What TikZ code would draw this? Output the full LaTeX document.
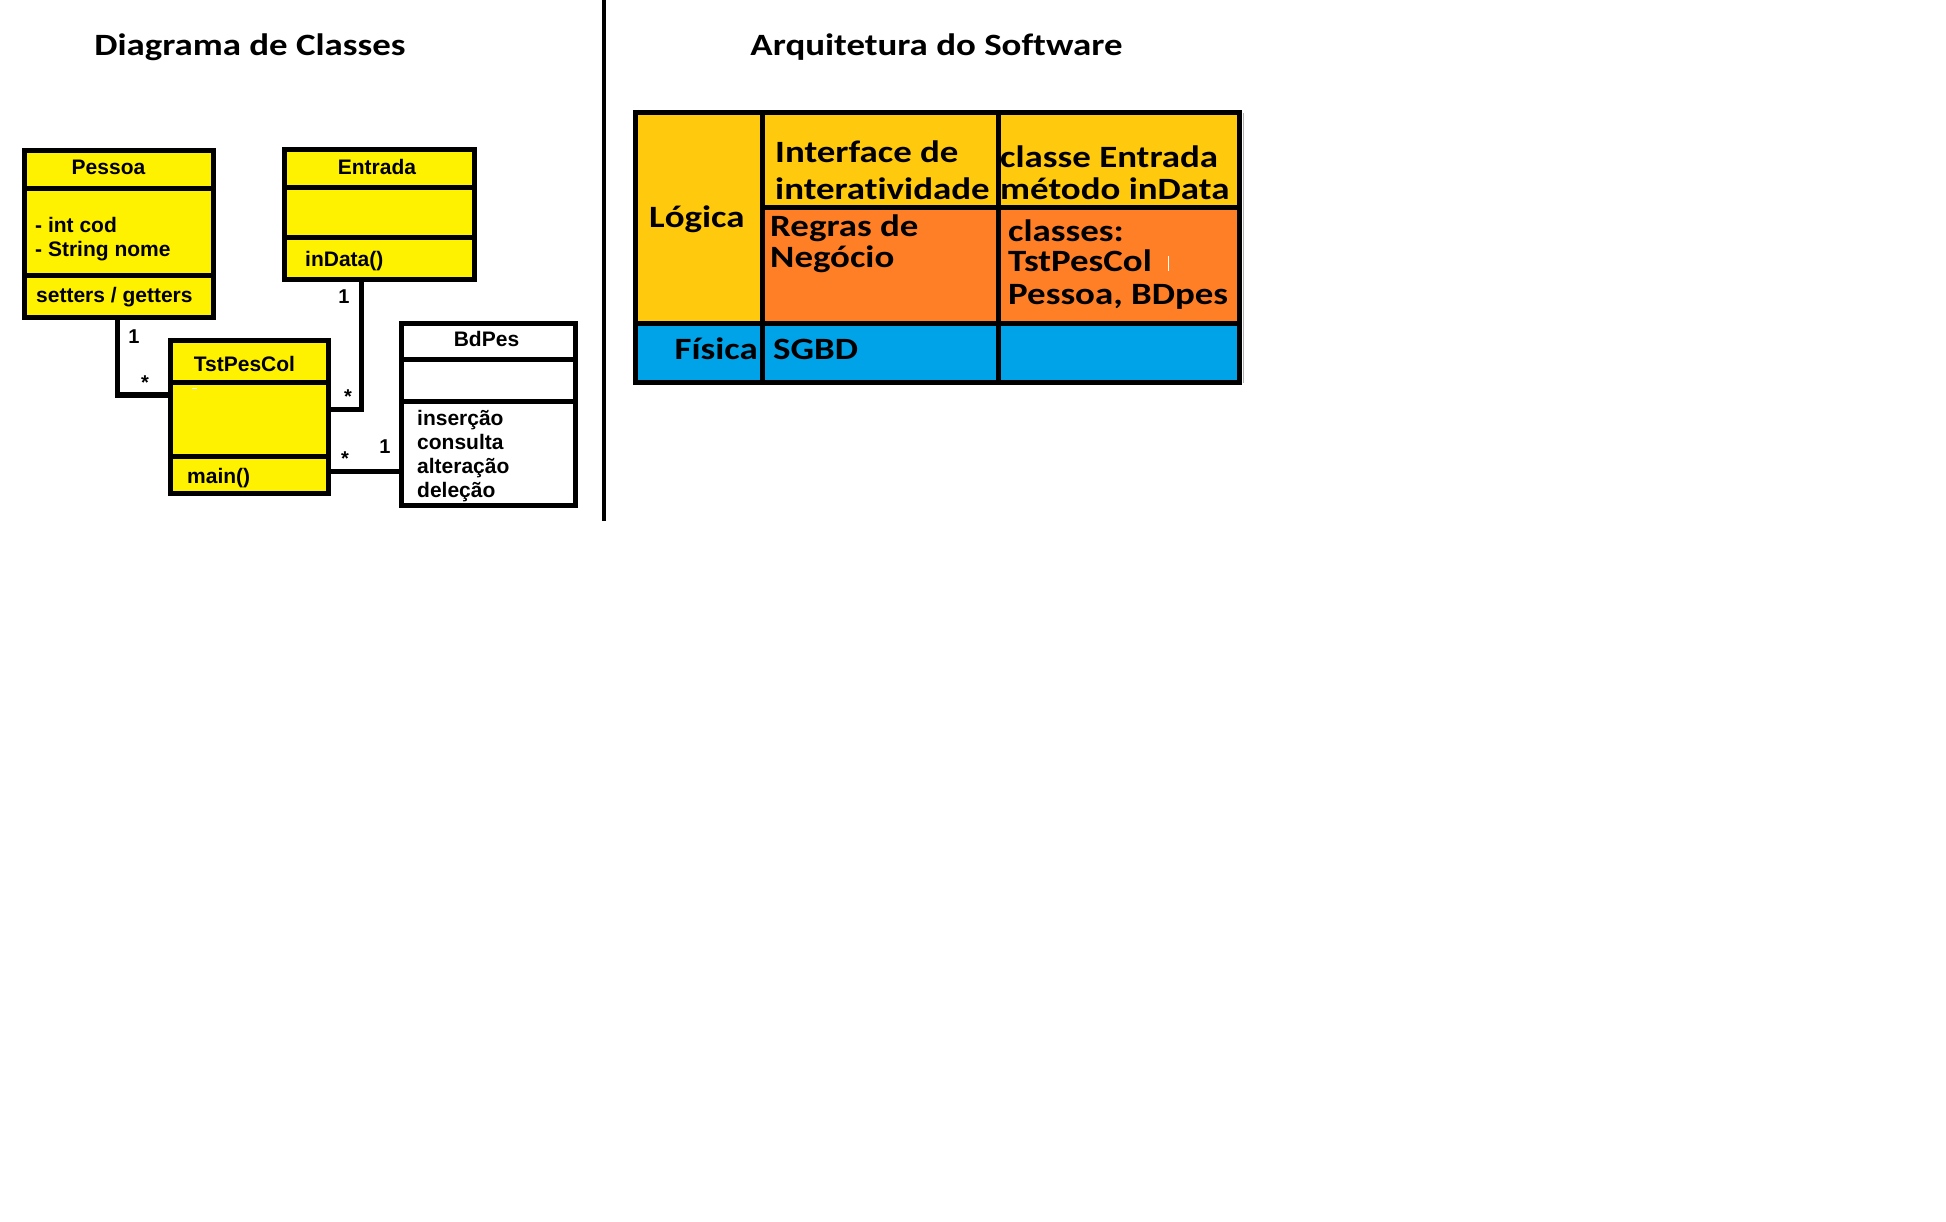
\documentclass[tikz,border=0pt]{standalone}
\usepackage{fontspec}
\setmainfont{Carlito}
\newfontfamily\umlfont{Liberation Sans}
\newfontfamily\cellfont{Carlito}[FakeStretch=1.19,Ligatures=NoCommon]
\definecolor{umlyellow}{HTML}{FFF200}
\definecolor{cellgold}{HTML}{FFC90E}
\definecolor{cellorange}{HTML}{FF7F27}
\definecolor{cellblue}{HTML}{00A2E8}

\begin{document}
\begin{tikzpicture}[x=1pt,y=-1pt,
  every node/.style={inner sep=0pt},
  heading/.style={font=\cellfont\bfseries\fontsize{31}{36}\selectfont,anchor=base},
  umlbox/.style={draw,line width=5pt,fill=umlyellow,anchor=north west,outer sep=0pt},
  umlline/.style={line width=5pt},
  umltext/.style={font=\umlfont\bfseries\fontsize{21}{24}\selectfont,anchor=base west},
  umlname/.style={umltext,anchor=base},
  mult/.style={font=\umlfont\bfseries\fontsize{20}{22}\selectfont},
  link/.style={line width=5pt},
  celltext/.style={font=\cellfont\bfseries\fontsize{31}{32}\selectfont,anchor=base west},
  grid/.style={line width=5pt}]
  \useasboundingbox (0,0) rectangle (1946,1222);

  % class diagram
  \node[heading] (t1) at (250,56) {Diagrama de Classes};

  \node[umlbox,minimum width=189pt,minimum height=167pt] (pessoa) at (24.5,150.5) {};
  \node[umlbox,minimum width=190pt,minimum height=130pt] (entrada) at (284.5,149.5) {};
  \node[umlbox,minimum width=158pt,minimum height=153pt] (tst) at (170.5,340.5) {};
  \node[umlbox,fill=white,minimum width=174pt,minimum height=182pt] (bdpes) at (401.5,323.5) {};

  \draw[umlline] ([yshift=-38.5pt]pessoa.north west) -- ([yshift=-38.5pt]pessoa.north east);
  \draw[umlline] ([yshift=-125.5pt]pessoa.north west) -- ([yshift=-125.5pt]pessoa.north east);
  \draw[umlline] ([yshift=-38.5pt]entrada.north west) -- ([yshift=-38.5pt]entrada.north east);
  \draw[umlline] ([yshift=-88.5pt]entrada.north west) -- ([yshift=-88.5pt]entrada.north east);
  \draw[umlline] ([yshift=-42.5pt]tst.north west) -- ([yshift=-42.5pt]tst.north east);
  \draw[umlline] ([yshift=-115.5pt]tst.north west) -- ([yshift=-115.5pt]tst.north east);
  \draw[umlline] ([yshift=-36.5pt]bdpes.north west) -- ([yshift=-36.5pt]bdpes.north east);
  \draw[umlline] ([yshift=-77.5pt]bdpes.north west) -- ([yshift=-77.5pt]bdpes.north east);
  \draw[white,line width=1pt] (192,389) -- (197,389);

  \node[umlname] (pessoaname) at (108.5,175) {Pessoa};
  \node[umltext] (pessoacod) at (35,233) {- int cod};
  \node[umltext] (pessoanome) at (35,257) {- String nome};
  \node[umltext] (pessoaops) at (36,303) {setters / getters};
  \node[umlname] (entradaname) at (377,175) {Entrada};
  \node[umltext] (entradaops) at (305,267) {inData()};
  \node[umlname] (tstname) at (244.5,371) {TstPesCol};
  \node[umltext] (tstops) at (187,483) {main()};
  \node[umlname] (bdpesname) at (486.5,347) {BdPes};
  \node[umltext] (bdpesins) at (417,425) {inserção};
  \node[umltext] (bdpescon) at (417,449) {consulta};
  \node[umltext] (bdpesalt) at (417,473) {alteração};
  \node[umltext] (bdpesdel) at (417,497) {deleção};

  % associations
  \coordinate (pe) at ([yshift=22pt]tst.west);
  \coordinate (en) at ([xshift=-18.5pt]entrada.south);
  \coordinate (et) at ([yshift=8pt]tst.east);
  \coordinate (tb) at ([yshift=-54pt]tst.east);
  \draw[link] ([xshift=-2pt]pessoa.south) |- (pe);
  \draw[link] (en) |- (et);
  \draw[link] (tb) -- (tb -| bdpes.west);

  \node[mult] (m1) at (134,337) {1};
  \node[mult] (m2) at (145,383) {*};
  \node[mult] (m3) at (344,297) {1};
  \node[mult] (m4) at (348,397) {*};
  \node[mult] (m5) at (345,459) {*};
  \node[mult] (m6) at (385,447) {1};

  \draw[line width=4pt] (604,0) -- (604,521);

  % software architecture
  \node[heading] (t2) at (936.5,56) {Arquitetura do Software};

  \fill[cellgold] (635,113) rectangle (1239,324);
  \fill[cellorange] (762,208) rectangle (1239,324);
  \fill[cellblue] (635,324) rectangle (1239,383);
  \draw[grid] (635,113) rectangle (1239,383);
  \draw[grid] (762,113) -- (762,383);
  \draw[grid] (998,113) -- (998,383);
  \draw[grid] (762,208) -- (1239,208);
  \draw[grid] (635,324) -- (1239,324);
  \draw[gray!60,line width=1pt] (1243,113) -- (1243,383);
  \draw[white,line width=1pt] (1168,256) -- (1168,271);

  \node[celltext] (logica) at (649,228) {Lógica};
  \node[celltext] (inter1) at (775,163) {Interface de};
  \node[celltext] (inter2) at (775,200) {interatividade};
  \node[celltext] (entr1) at (1000,168) {classe Entrada};
  \node[celltext] (entr2) at (1000,200) {método inData};
  \node[celltext] (regras1) at (770,237) {Regras de};
  \node[celltext] (regras2) at (770,268) {Negócio};
  \node[celltext] (classes1) at (1008,242) {classes:};
  \node[celltext] (classes2) at (1008,272) {TstPesCol};
  \node[celltext] (classes3) at (1008,305) {Pessoa, BDpes};
  \node[celltext,anchor=base east] (fisica) at (758,360) {Física};
  \node[celltext] (sgbd) at (773,360) {SGBD};
\end{tikzpicture}
\end{document}
